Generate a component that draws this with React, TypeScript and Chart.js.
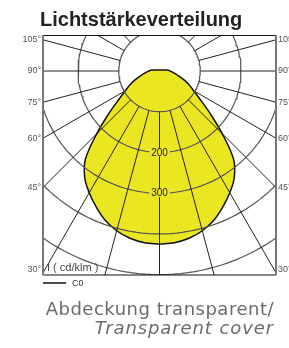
import React, { useEffect, useRef } from "react";
import { Chart, registerables } from "chart.js";
Chart.register(...registerables);

// ---- data ----
const titleText = "Lichtstärkeverteilung";
const captionDe = "Abdeckung transparent/";
const captionEn = "Transparent cover";
const unitLabel = "I ( cd/klm )";
const seriesName = "C0";

// gamma angles (deg, 0 = straight down) and luminous intensity (cd/klm), C0 plane (symmetric)
const gammaAngles = [0, 5, 10, 15, 20, 25, 30, 35, 40, 45, 50, 55, 60, 65, 70, 75, 80, 85, 90, 95, 100, 105, 110, 115, 120, 125, 130, 135, 140, 145, 150, 155, 160, 165, 170, 175, 180];
const intensityC0 = [425, 423, 417, 406, 390, 368, 345, 320, 283, 218, 162, 122, 97, 80, 64, 50, 40, 32, 26, 22, 14, 10, 7, 6, 5, 4, 4, 3.5, 3, 3, 3, 3, 2.5, 2.5, 2.5, 2.5, 2.5];

const gridRadii = [100, 200, 300, 400, 500];
const radialAngles = [0, 15, 30, 45, 60, 75, 90, 105, 120, 135, 150, 165, 180, 195, 210, 225, 240, 255, 270, 285, 300, 315, 330, 345];
const sideAngleLabels = [105, 90, 75, 60, 45, 30];
const ringLabels = [200, 300];

const X_RANGE = 286;
const Y_MAX = 88.4;
const Y_MIN = -500.8;
const RADIAL_INNER = 100;
const RADIAL_OUTER = 800;

const rad = (d: number) => (d * Math.PI) / 180;
const polar = (r: number, deg: number) => ({ x: r * Math.sin(rad(deg)), y: -r * Math.cos(rad(deg)) });

function App() {
  const ref = useRef<HTMLCanvasElement | null>(null);
  useEffect(() => {
    if (!ref.current) return;

    const shape: { x: number; y: number }[] = [];
    gammaAngles.forEach((g, i) => shape.push(polar(intensityC0[i], g)));
    for (let i = gammaAngles.length - 1; i >= 0; i--) shape.push(polar(intensityC0[i], -gammaAngles[i]));

    const datasets: any[] = [];
    datasets.push({
      label: seriesName,
      data: shape,
      showLine: true,
      fill: "shape",
      backgroundColor: "#ebe622",
      borderColor: "#111",
      borderWidth: 1.5,
      pointRadius: 0,
      tension: 0.35,
      order: 10,
    });
    gridRadii.forEach((r) => {
      const pts = [];
      for (let a = 0; a <= 360; a += 2) pts.push(polar(r, a));
      datasets.push({
        data: pts,
        showLine: true,
        fill: false,
        borderColor: "#555",
        borderWidth: 1.2,
        pointRadius: 0,
        order: 1,
      });
    });
    radialAngles.forEach((a) => {
      datasets.push({
        data: [polar(RADIAL_INNER, a), polar(RADIAL_OUTER, a)],
        showLine: true,
        fill: false,
        borderColor: "#222",
        borderWidth: 1,
        pointRadius: 0,
        order: 0,
      });
    });

    const overlay = {
      id: "overlay",
      afterDatasetsDraw(chart: any) {
        const { ctx, chartArea: a, scales } = chart;
        const sx = scales.x, sy = scales.y;
        ctx.save();
        // frame
        ctx.strokeStyle = "#111";
        ctx.lineWidth = 1.2;
        ctx.beginPath();
        ctx.moveTo(a.left, a.top + 0.5);
        ctx.lineTo(a.right, a.top + 0.5);
        ctx.moveTo(a.left, a.bottom);
        ctx.lineTo(a.right, a.bottom);
        ctx.stroke();
        ctx.strokeStyle = "#777";
        ctx.lineWidth = 2;
        ctx.beginPath();
        ctx.moveTo(a.left, a.top);
        ctx.lineTo(a.left, a.bottom);
        ctx.moveTo(a.right, a.top);
        ctx.lineTo(a.right, a.bottom);
        ctx.stroke();

        // ring labels
        ctx.font = "10px 'Liberation Sans', Arial, sans-serif";
        ctx.textAlign = "center";
        ctx.textBaseline = "middle";
        ringLabels.forEach((v) => {
          const px = sx.getPixelForValue(0);
          const py = sy.getPixelForValue(-v);
          const w = ctx.measureText(String(v)).width;
          ctx.fillStyle = "#ebe622";
          ctx.fillRect(px - w / 2 - 2, py - 4, w + 4, 8);
          ctx.fillStyle = "#222";
          ctx.fillText(String(v), px, py + 0.5);
        });

        // side angle labels
        ctx.font = "9px 'Liberation Sans', Arial, sans-serif";
        ctx.fillStyle = "#555";
        ctx.textBaseline = "middle";
        sideAngleLabels.forEach((g) => {
          const t = X_RANGE / Math.sin(rad(g));
          const yv = -Math.cos(rad(g)) * t;
          let py = sy.getPixelForValue(yv);
          py = Math.max(a.top + 1, Math.min(a.bottom - 5, py));
          ctx.textAlign = "right";
          ctx.fillText(g + "°", a.left - 2, py);
          ctx.textAlign = "left";
          ctx.fillText(g + "°", a.right + 2, py);
        });

        // unit label
        ctx.fillStyle = "#444";
        ctx.textAlign = "left";
        ctx.font = "11px 'Liberation Sans', Arial, sans-serif";
        ctx.fillText(unitLabel, a.left + 4, a.bottom - 7);

        // legend
        ctx.strokeStyle = "#111";
        ctx.lineWidth = 1.5;
        ctx.beginPath();
        ctx.moveTo(a.left, a.bottom + 8);
        ctx.lineTo(a.left + 23, a.bottom + 8);
        ctx.stroke();
        ctx.fillStyle = "#333";
        ctx.font = "9px 'Liberation Sans', Arial, sans-serif";
        ctx.fillText(seriesName, a.left + 29, a.bottom + 8.5);
        ctx.restore();
      },
    };

    const chart = new Chart(ref.current, {
      type: "scatter",
      data: { datasets },
      options: {
        animation: false,
        responsive: false,
        maintainAspectRatio: false,
        layout: { padding: { left: 43, right: 13, top: 35, bottom: 73 } },
        plugins: { legend: { display: false }, tooltip: { enabled: false }, title: { display: false } },
        scales: {
          x: { type: "linear", min: -X_RANGE, max: X_RANGE, display: false },
          y: { type: "linear", min: Y_MIN, max: Y_MAX, display: false },
        },
        events: [],
      },
      plugins: [overlay],
    });
    return () => chart.destroy();
  }, []);

  return (
    <div style={{ position: "fixed", left: 0, top: 0, width: 289, height: 348, background: "#fff", overflow: "hidden" }}>
      <canvas ref={ref} width={289} height={348} style={{ position: "absolute", left: 0, top: 0, width: 289, height: 348 }} />
      <div style={{ position: "absolute", left: 40, top: 7, fontFamily: "'Liberation Sans', Arial, sans-serif", fontWeight: 700, fontSize: 20, color: "#222", whiteSpace: "nowrap", lineHeight: "24px" }}>
        {titleText}
      </div>
      <div style={{ position: "absolute", right: 15, top: 299, fontFamily: "'DejaVu Sans', sans-serif", fontSize: 18, color: "#6b6b6b", whiteSpace: "nowrap", lineHeight: "19px", textAlign: "right" }}>
        <div style={{ letterSpacing: "0.5px" }}>{captionDe}</div>
        <div style={{ fontStyle: "italic", letterSpacing: "0.9px" }}>{captionEn}</div>
      </div>
    </div>
  );
}

export default App;
